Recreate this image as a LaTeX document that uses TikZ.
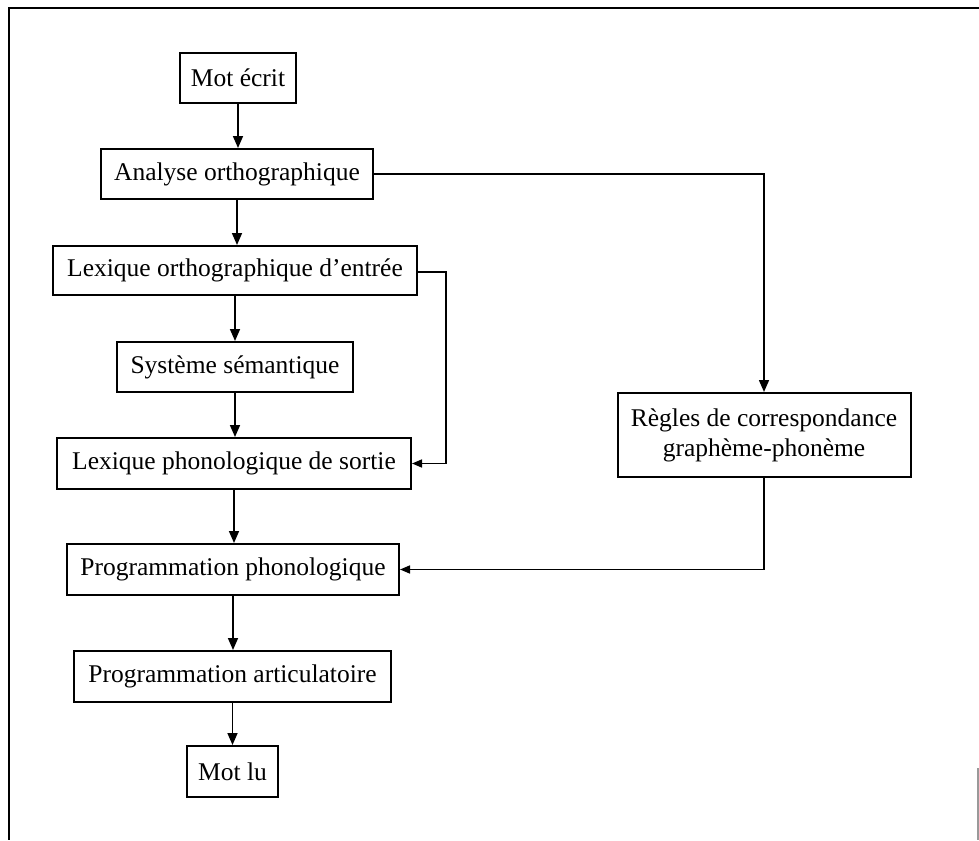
\documentclass[tikz,border=0pt]{standalone}
\usepackage{fontspec}
\setmainfont{Liberation Serif}
\usetikzlibrary{arrows.meta}
\begin{document}
\begin{tikzpicture}[x=1pt,y=-1pt,
  box/.style={draw, line width=2pt, inner sep=0pt, align=center,
    font=\fontsize{25.5}{30}\selectfont},
  link/.style={line width=1.6pt, -{Triangle[length=12pt,width=10pt]}},
  sidelink/.style={line width=1.6pt, -{Triangle[length=10pt,width=8pt]}},
  frame/.style={line width=2pt}]
\useasboundingbox (0,0) rectangle (979,840);
% outer frame
\draw[frame] (979,8) -- (9,8) -- (9,840);
\draw[line width=1.5pt, black!40] (978,768) -- (978,840);

% boxes of the reading model
\node[box, minimum width=116pt, minimum height=50pt] (motecrit) at (238,78) {Mot écrit};
\node[box, minimum width=272pt, minimum height=50pt] (analyse) at (237,174) {Analyse orthographique};
\node[box, minimum width=364pt, minimum height=49pt] (lexorth) at (235,270.5) {Lexique orthographique d'entrée};
\node[box, minimum width=236pt, minimum height=50pt] (sysem) at (235,367) {Système sémantique};
\node[box, minimum width=354pt, minimum height=51pt] (lexphon) at (234,463.5) {Lexique phonologique de sortie};
\node[box, minimum width=293pt, minimum height=84pt] (regles) at (764,435) {Règles de correspondance\\graphème-phonème};
\node[box, minimum width=332pt, minimum height=51pt] (progphon) at (233,569.5) {Programmation phonologique};
\node[box, minimum width=317pt, minimum height=51pt] (progart) at (232.5,676.5) {Programmation articulatoire};
\node[box, minimum width=91pt, minimum height=51pt] (motlu) at (232.5,771.5) {Mot lu};

% lexical route
\draw[link] (motecrit.south) -- (motecrit.south |- analyse.north);
\draw[link] (analyse.south) -- (analyse.south |- lexorth.north);
\draw[link] (lexorth.south) -- (lexorth.south |- sysem.north);
\draw[link] (sysem.south) -- (sysem.south |- lexphon.north);
\draw[link] (lexphon.south) -- (lexphon.south |- progphon.north);
\draw[link] (progphon.south) -- (progphon.south |- progart.north);
\draw[link] (progart.south) -- (progart.south |- motlu.north);

% direct lexical link
\coordinate (bypass) at (446,272);
\draw[sidelink] (lexorth.east |- bypass) -- (bypass) |- (lexphon.east);

% sublexical route
\draw[link] (analyse.east) -| (regles.north);
\draw[sidelink] (regles.south) |- (progphon.east);
\end{tikzpicture}
\end{document}
